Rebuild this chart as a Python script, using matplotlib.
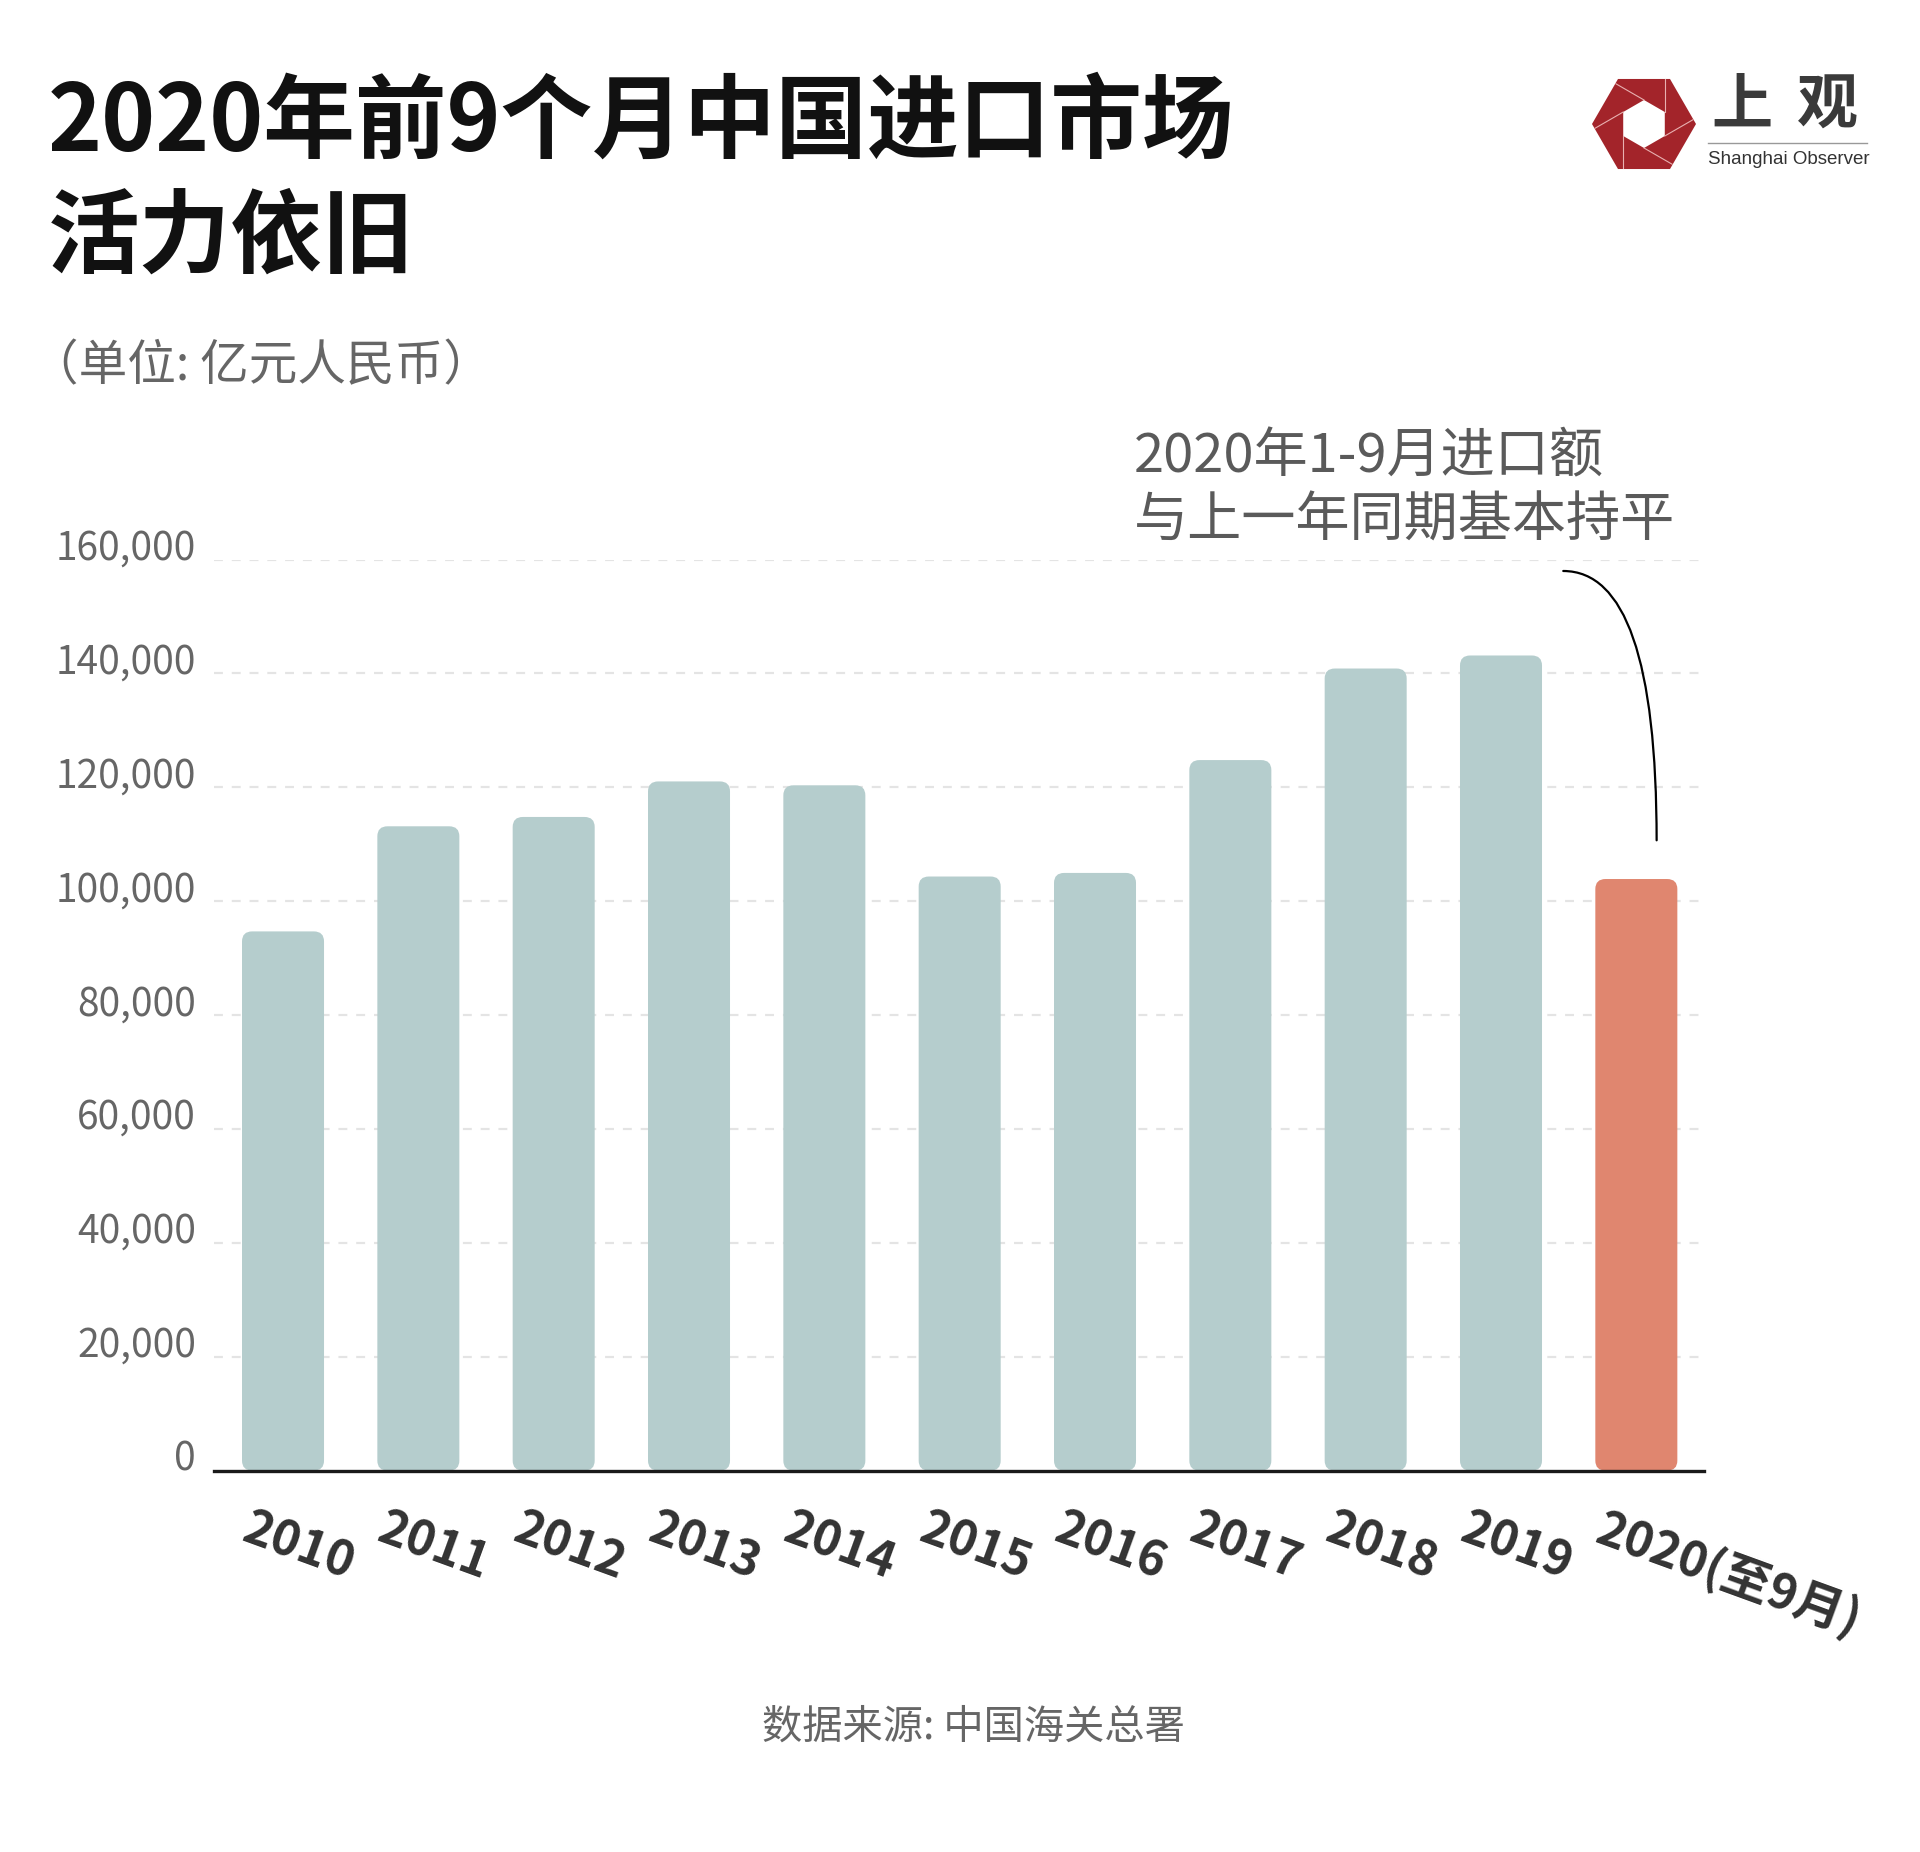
import numpy as np
import matplotlib
matplotlib.use('Agg')
import matplotlib.pyplot as plt
import matplotlib.transforms as mtransforms
from matplotlib.patches import FancyBboxPatch, Polygon

plt.rcParams['font.family'] = ['Noto Sans CJK SC', 'DejaVu Sans']

# data: China imports, 100 million RMB
years = ['2010', '2011', '2012', '2013', '2014', '2015', '2016', '2017', '2018', '2019', '2020(至9月)']
imports = [94700, 113160, 114800, 121040, 120360, 104340, 104970, 124790, 140870, 143160, 103900]
yticks = [0, 20000, 40000, 60000, 80000, 100000, 120000, 140000, 160000]

W, H = 1920, 1852
fig = plt.figure(figsize=(W / 100, H / 100), dpi=100)
fig.patch.set_facecolor('white')

def fx(px):
    return px / W

def fy(py):
    return 1 - py / H

ax = fig.add_axes([fx(214), fy(1470.6), fx(1704) - fx(214), fy(559.6) - fy(1470.6)])

x = np.arange(len(years))
colors = ['#B5CDCD'] * (len(years) - 1) + ['#E0866F']
bars = ax.bar(x, imports, width=0.606, color=colors, zorder=3)

# rounded corners
for b in bars:
    bx, by, bw, bh = b.get_x(), b.get_y(), b.get_width(), b.get_height()
    p = FancyBboxPatch((bx, by), bw, bh,
                       boxstyle='round,pad=0,rounding_size=0.075',
                       mutation_aspect=23400, fc=b.get_facecolor(), ec='none', zorder=3)
    b.remove()
    ax.add_patch(p)

ax.set_xlim(-0.51, len(years) - 0.5)
ax.set_ylim(0, 160000)
for s in ax.spines.values():
    s.set_visible(False)
ax.axhline(0, color='#1a1a1a', lw=2.4, zorder=4, clip_on=False)
for v in yticks[1:]:
    ax.axhline(v, color='#E4E4E4', lw=1.6, ls=(0, (4, 4)), zorder=1)

ax.set_yticks(yticks)
ax.set_yticklabels([f'{v:,}' for v in yticks], fontsize=28, color='#666666')
ax.tick_params(axis='y', length=0, pad=13)
for lab in ax.get_yticklabels():
    lab.set_va('baseline')

ax.set_xticks(x)
ax.set_xticklabels(years, fontsize=35, fontweight='bold', color='#333333',
                   rotation=-20, ha='left', va='top', rotation_mode='default')
ax.tick_params(axis='x', length=0, pad=24)
off = mtransforms.ScaledTranslation(-0.47, 0, fig.dpi_scale_trans)
for lab in ax.get_xticklabels():
    lab.set_transform(lab.get_transform() + off)

# connector to 2020 bar
ax.annotate('', xy=(10.15, 110700), xytext=(9.46, 158000),
            arrowprops=dict(arrowstyle='-', color='black', lw=1.6,
                            connectionstyle='angle3,angleA=0,angleB=90',
                            shrinkA=0, shrinkB=0), annotation_clip=False)

# titles
fig.text(fx(48), fy(124), '2020年前9个月中国进口市场', fontsize=66, fontweight='bold',
         color='#111111', va='center', ha='left')
fig.text(fx(48), fy(239), '活力依旧', fontsize=66, fontweight='bold',
         color='#111111', va='center', ha='left')
fig.text(fx(30), fy(367), '（单位: 亿元人民币）', fontsize=35, color='#666666',
         va='center', ha='left')

fig.text(fx(1134), fy(457), '2020年1-9月进口额', fontsize=39, color='#5a5a5a',
         va='center', ha='left')
fig.text(fx(1134), fy(521), '与上一年同期基本持平', fontsize=39, color='#5a5a5a',
         va='center', ha='left')

fig.text(fx(973), fy(1727), '数据来源: 中国海关总署', fontsize=29, color='#666666',
         va='center', ha='center')

# logo
lax = fig.add_axes([0, 0, 1, 1], zorder=-1)
lax.set_xlim(0, W)
lax.set_ylim(H, 0)
lax.axis('off')
cx, cy, R = 1644, 124, 52
ang = np.deg2rad(np.arange(0, 360, 60))
outer = np.c_[cx + R * np.cos(ang), cy + R * np.sin(ang)]
hexp = Polygon(outer, closed=True, fc='#A3242A', ec='none')
lax.add_patch(hexp)
r = 24
ang2 = ang + np.deg2rad(30)
inner = np.c_[cx + r * np.cos(ang2), cy + r * np.sin(ang2)]
lax.add_patch(Polygon(inner, closed=True, fc='white', ec='none'))
for i in range(6):
    p0 = inner[i]
    d = inner[(i + 1) % 6] - inner[i]
    d = d / np.hypot(*d)
    ln, = lax.plot([p0[0], p0[0] - d[0] * 60], [p0[1], p0[1] - d[1] * 60],
                   color='#e8b0b0', lw=0.8)
    ln.set_clip_path(hexp)
lax.text(1742, 106, '上', fontsize=44, fontweight='bold', color='#3a3a3a', ha='center', va='center')
lax.text(1828, 106, '观', fontsize=44, fontweight='bold', color='#3a3a3a', ha='center', va='center')
lax.plot([1708, 1867], [143, 143], color='#999999', lw=1)
lax.text(1708, 160, 'Shanghai Observer', fontsize=13.5, family='Liberation Sans',
         color='#333333', ha='left', va='center')

fig.savefig('out.png', dpi=100, facecolor='white')
